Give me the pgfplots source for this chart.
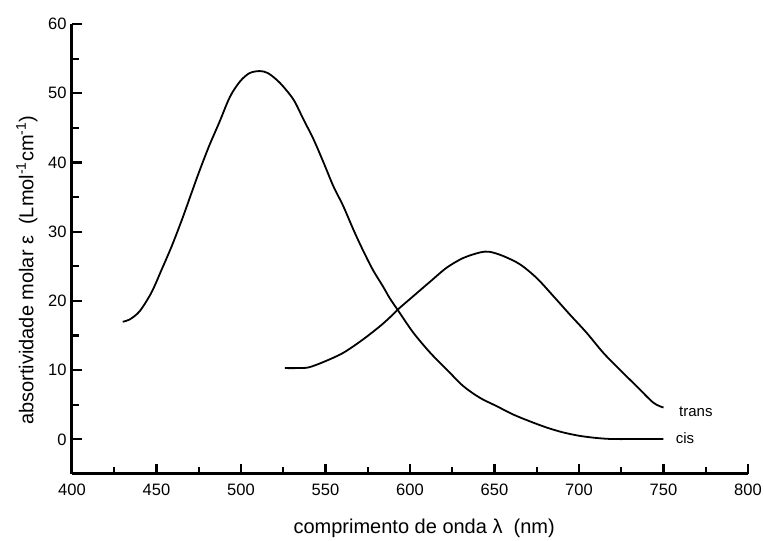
\documentclass[border=0pt]{standalone}
\usepackage{fontspec}
\setmainfont{Liberation Sans}
\usepackage{pgfplots}
\pgfplotsset{compat=1.18}
\begin{document}
\fontsize{16}{19}\selectfont
\begin{tikzpicture}
\path[use as bounding box] (-72pt,-67pt) rectangle (692pt,474pt);
\begin{axis}[
  scale only axis,
  width=676pt, height=450pt,
  xmin=400, xmax=800, ymin=-5, ymax=60,
  axis x line=bottom, axis y line=left,
  axis line style={line width=3pt, black, -},
  xtick={400,450,...,800}, ytick={0,10,...,60},
  minor xtick={425,475,...,775}, minor ytick={5,15,...,55},
  tick align=inside,
  major tick length=10pt, minor tick length=6.5pt,
  tick style={line width=2.2pt, black},
  /pgf/number format/assume math mode=true,
  /pgf/number format/1000 sep={},
  tick label style={font=\fontsize{16.5}{19}\selectfont},
  xticklabel style={yshift=-4pt},
  yticklabel style={xshift=0pt},
  xlabel={comprimento de onda λ \ (nm)},
  ylabel={absortividade molar ε \ (Lmol\textsuperscript{-1}cm\textsuperscript{-1})},
  xlabel style={at={(axis description cs:0.521,-0.12)}, anchor=center, font=\fontsize{20}{23}\selectfont},
  ylabel style={at={(axis description cs:-0.0666,0.453)}, anchor=center, font=\fontsize{20}{23}\selectfont},
  clip=false,
]
% cis
\addplot[black, line width=1.8pt, smooth] coordinates {
(430,17.0) (434,17.3) (440,18.5) (447,21.2) (453,24.5) (459,27.9) (465,31.7)
(470,35.1) (475,38.5) (481,42.3) (487,45.7) (493.5,49.5) (499.4,51.7) (505,52.9)
(511,53.2) (516,52.9) (523,51.5) (531,49.1) (537,46.2) (543,43.3) (549,39.9)
(554.6,36.6) (560.5,33.7) (566.5,30.3) (572,27.4) (578,24.5) (584,22.1)
(588,20.4) (593,18.6) (602,15.4) (612,12.5) (621.7,10.1) (631.5,7.7)
(641.4,6.0) (651.3,4.8) (661,3.6) (671,2.6) (681,1.7) (690.7,1.0)
(700.6,0.5) (710.5,0.2) (720,0.05) (735,0.05) (750,0.05)
};
% trans
\addplot[black, line width=1.8pt, smooth] coordinates {
(526,10.3) (533,10.3) (540,10.4) (549,11.2) (560.5,12.5) (572,14.4) (582,16.3)
(588,17.6) (593,18.8) (602,20.7) (612,22.8) (621.7,24.8) (631.5,26.2)
(641.4,27.0) (647,27.1) (655,26.5) (665,25.3) (675,23.3) (684.8,20.7)
(694.7,18.0) (704.5,15.4) (714.4,12.5) (724,10.1) (734,7.7) (744,5.3) (750,4.6)
};
\node[anchor=west, font=\fontsize{15}{17}\selectfont] at (axis cs:756,4.0) {trans};
\node[anchor=west, font=\fontsize{15}{17}\selectfont] at (axis cs:754,0.2) {cis};
\end{axis}
\end{tikzpicture}
\end{document}
